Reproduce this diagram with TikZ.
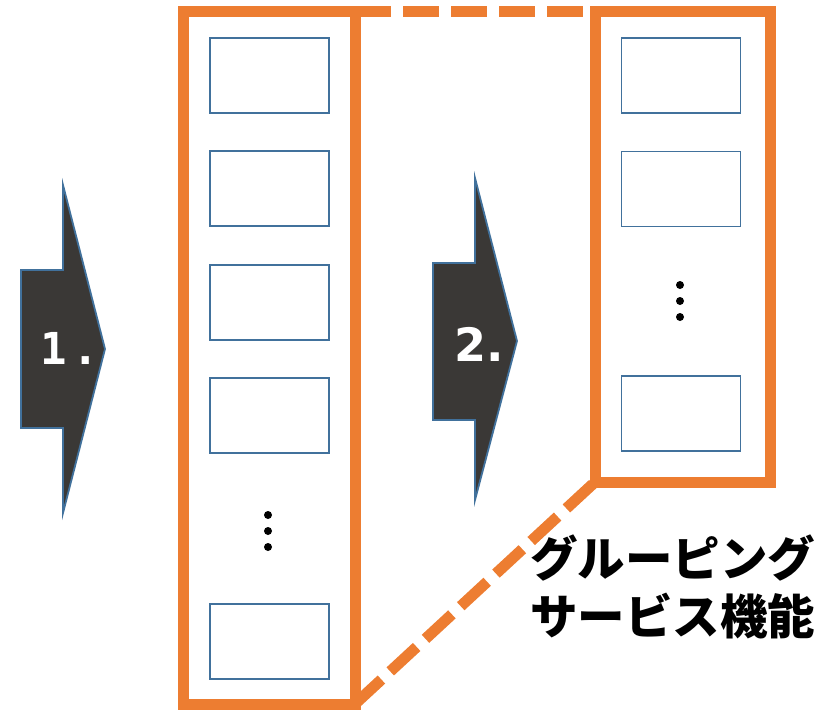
\documentclass[tikz,border=0pt]{standalone}
\usepackage{fontspec}
\newfontfamily\jpfont{Noto Sans CJK JP}
\newfontfamily\monofontb{DejaVu Sans Mono Bold}
\newfontfamily\sansfontb{DejaVu Sans Bold}
\definecolor{orng}{HTML}{ED7D31}
\definecolor{bluel}{HTML}{41719C}
\definecolor{darkf}{HTML}{3A3836}
\begin{document}
\begin{tikzpicture}[x=1pt,y=-1pt,
  grp/.style={draw=orng,line width=11pt,minimum width=#1,inner sep=0pt,outer sep=0pt},
  item/.style={draw=bluel,line width=1.6pt,minimum width=119pt,minimum height=75pt,inner sep=0pt,outer sep=0pt},
  dashlink/.style={draw=orng,line width=11pt,dash pattern=on 36pt off 12pt},
  bigarrow/.style={fill=darkf,draw=bluel,line width=1.8pt,line join=miter},
  dotnode/.style={circle,fill=black,inner sep=0pt,minimum size=8pt},
  steptext/.style={text=white,inner sep=0pt}
]
\useasboundingbox (0,0) rectangle (833,712);

% group frames
\node[grp=172pt,minimum height=693pt] (g1) at (269,357.5) {};
\node[grp=175pt,minimum height=471pt] (g2) at (682.5,246.5) {};

% dashed links
\draw[dashlink] (g1.north east) -- (g2.north west);
\draw[dashlink] (g1.south east) -- (g2.south west);

% items in group 1
\node[item] (a1) at (269.5,75.5) {};
\node[item] (a2) at (269.5,188.5) {};
\node[item] (a3) at (269.5,302.5) {};
\node[item] (a4) at (269.5,415.5) {};
\node[item] (a5) at (269.5,641.5) {};
\node[dotnode] (d1) at (268,515) {};
\node[dotnode] (d2) at (268,531) {};
\node[dotnode] (d3) at (268,547) {};

% items in group 2
\node[item] (b1) at (681,75.5) {};
\node[item] (b2) at (681,189) {};
\node[item] (b3) at (681,413.5) {};
\node[dotnode] (e1) at (680,285) {};
\node[dotnode] (e2) at (680,301) {};
\node[dotnode] (e3) at (680,317) {};

% arrows
\draw[bigarrow] (21,270) -- (63,270) -- (63,185) -- (105,349) -- (63,513) -- (63,428) -- (21,428) -- cycle;
\node[steptext,font=\monofontb\fontsize{44}{44}\selectfont] (s1) at (70,348) {1\kern6pt.};
\draw[bigarrow] (433,263) -- (475,263) -- (475,178) -- (517,341) -- (475,500) -- (475,420) -- (433,420) -- cycle;
\node[steptext,font=\sansfontb\fontsize{46}{46}\selectfont] (s2) at (479,344) {2.};

% label
\node[anchor=base west,inner sep=0pt,font=\jpfont\bfseries\fontsize{47.5}{47.5}\selectfont] (l1) at (530,576) {グルーピング};
\node[anchor=base west,inner sep=0pt,font=\jpfont\bfseries\fontsize{47.5}{47.5}\selectfont] (l2) at (530,634) {サービス機能};
\end{tikzpicture}
\end{document}
